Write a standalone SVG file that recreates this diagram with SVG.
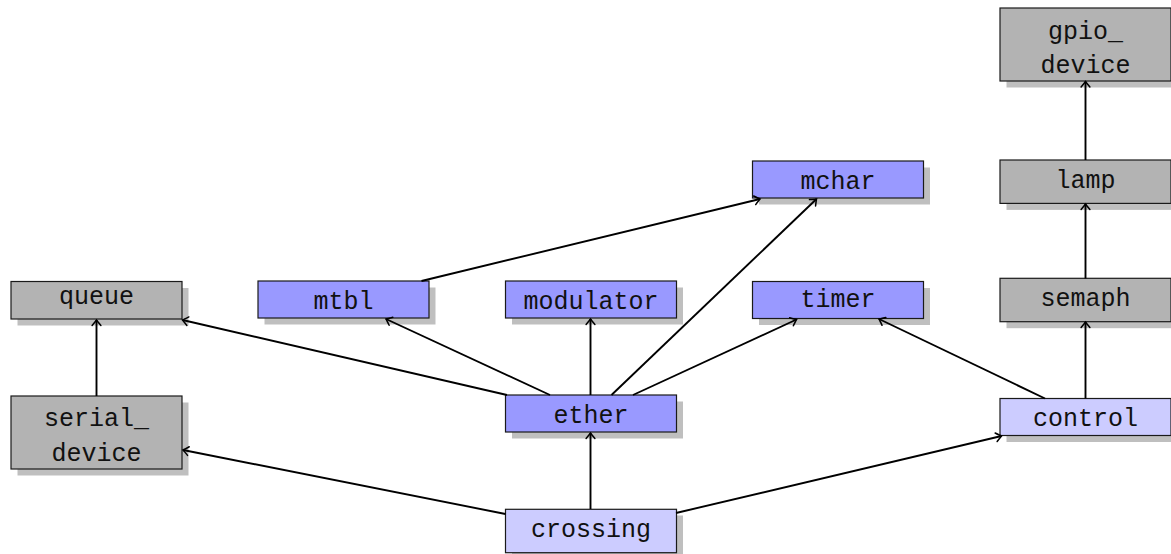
<svg xmlns="http://www.w3.org/2000/svg" width="1171" height="554" viewBox="0 0 1171 554">
  <style>
    .shadow { fill: #bfbfbf; }
    .box { stroke: #1a1a1a; stroke-width: 1.2; }
    .gray { fill: #b3b3b3; }
    .blue { fill: #9999ff; }
    .light { fill: #ccccff; }
    .label { font-family: "Liberation Mono", "DejaVu Sans Mono", monospace; font-size: 25px; fill: #111; text-anchor: middle; }
    .edge { fill: none; stroke: #000; stroke-width: 1.9; marker-end: url(#arrow); }
  </style>
  <defs>
    <marker id="arrow" markerUnits="userSpaceOnUse" viewBox="-7 -6 9 12" refX="0" refY="0" markerWidth="9" markerHeight="12" orient="auto">
      <path d="M -5.5,-4.4 Q -1.2,-0.8 0,0 Q -1.2,0.8 -5.5,4.4" fill="none" stroke="#000" stroke-width="1.5" stroke-linecap="round"/>
    </marker>
  </defs>

  <!-- nodes -->
  <g id="queue">
    <rect class="shadow" x="17.5" y="288" width="171" height="37.5"/>
    <rect class="box gray" x="11" y="281.5" width="171" height="37.5"/>
    <text class="label" x="96.5" y="303.5">queue</text>
  </g>
  <g id="serial_device">
    <rect class="shadow" x="17.5" y="402.5" width="171" height="73"/>
    <rect class="box gray" x="11" y="396" width="171" height="73"/>
    <text class="label" x="96.5" y="426">serial_</text>
    <text class="label" x="96.5" y="460.5">device</text>
  </g>
  <g id="mtbl">
    <rect class="shadow" x="264.5" y="287.5" width="171" height="37"/>
    <rect class="box blue" x="258" y="281" width="171" height="37"/>
    <text class="label" x="343.5" y="308.5">mtbl</text>
  </g>
  <g id="modulator">
    <rect class="shadow" x="512" y="287.5" width="171" height="37"/>
    <rect class="box blue" x="505.5" y="281" width="171" height="37"/>
    <text class="label" x="591" y="308.5">modulator</text>
  </g>
  <g id="timer">
    <rect class="shadow" x="759" y="288" width="171" height="37"/>
    <rect class="box blue" x="752.5" y="281.5" width="171" height="37"/>
    <text class="label" x="838" y="306.7">timer</text>
  </g>
  <g id="mchar">
    <rect class="shadow" x="759" y="167.5" width="171" height="37"/>
    <rect class="box blue" x="752.5" y="161" width="171" height="37"/>
    <text class="label" x="838" y="189">mchar</text>
  </g>
  <g id="ether">
    <rect class="shadow" x="512" y="401.5" width="171" height="37"/>
    <rect class="box blue" x="505.5" y="395" width="171" height="37"/>
    <text class="label" x="591" y="422.7">ether</text>
  </g>
  <g id="crossing">
    <rect class="shadow" x="512" y="515.5" width="171" height="43.4"/>
    <rect class="box light" x="505.5" y="509.3" width="171" height="43.4"/>
    <text class="label" x="591" y="536.7">crossing</text>
  </g>
  <g id="control">
    <rect class="shadow" x="1006.5" y="405" width="171" height="37"/>
    <rect class="box light" x="1000" y="398.5" width="171" height="37"/>
    <text class="label" x="1085.5" y="425.8">control</text>
  </g>
  <g id="semaph">
    <rect class="shadow" x="1006.5" y="284.8" width="171" height="43.4"/>
    <rect class="box gray" x="1000" y="278.3" width="171" height="43.4"/>
    <text class="label" x="1085.5" y="306">semaph</text>
  </g>
  <g id="lamp">
    <rect class="shadow" x="1006.5" y="166.5" width="171" height="43.4"/>
    <rect class="box gray" x="1000" y="160" width="171" height="43.4"/>
    <text class="label" x="1085.5" y="187.7">lamp</text>
  </g>
  <g id="gpio_device">
    <rect class="shadow" x="1006.5" y="14.5" width="171" height="73"/>
    <rect class="box gray" x="1000" y="8" width="171" height="73"/>
    <text class="label" x="1085.5" y="38.7">gpio_</text>
    <text class="label" x="1085.5" y="72.7">device</text>
  </g>

  <!-- connectors, drawn over the node shadows -->
  <g id="edges">
    <line class="edge" x1="96.5" y1="396" x2="96.5" y2="320"/>
    <line class="edge" x1="507" y1="395" x2="182.5" y2="320"/>
    <line class="edge" x1="550" y1="395" x2="386" y2="319"/>
    <line class="edge" x1="590.5" y1="395" x2="590.5" y2="319"/>
    <line class="edge" x1="611.5" y1="395" x2="816.5" y2="199"/>
    <line class="edge" x1="633" y1="395" x2="796.5" y2="319.5"/>
    <line class="edge" x1="421.5" y1="281" x2="760" y2="199"/>
    <line class="edge" x1="590.5" y1="509" x2="590.5" y2="433"/>
    <line class="edge" x1="505.5" y1="514" x2="183" y2="450"/>
    <line class="edge" x1="676" y1="513" x2="1001.5" y2="436"/>
    <line class="edge" x1="1045" y1="398.5" x2="879" y2="319"/>
    <line class="edge" x1="1085.5" y1="398.5" x2="1085.5" y2="322"/>
    <line class="edge" x1="1085.5" y1="278.5" x2="1085.5" y2="204"/>
    <line class="edge" x1="1085.5" y1="160" x2="1085.5" y2="81.5"/>
  </g>
</svg>
